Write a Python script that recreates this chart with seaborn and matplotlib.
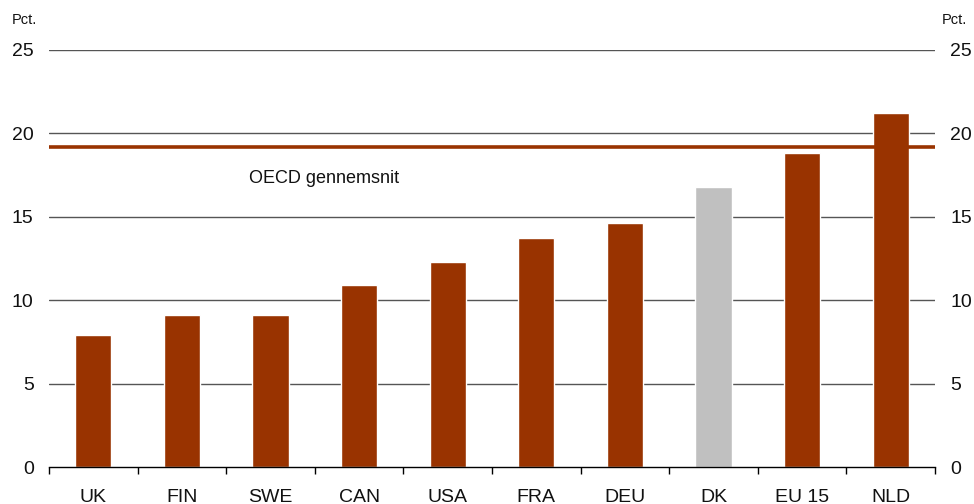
import numpy as np
import seaborn as sns

import matplotlib

matplotlib.use("Agg")
import matplotlib.pyplot as plt
from matplotlib.ticker import FixedLocator

countries = ["UK", "FIN", "SWE", "CAN", "USA", "FRA", "DEU", "DK", "EU 15", "NLD"]
values = [7.9, 9.1, 9.1, 10.9, 12.3, 13.7, 14.6, 16.8, 18.8, 21.2]
oecd_avg = 19.2
yticks = [0, 5, 10, 15, 20, 25]

RED = "#993300"
GREY = "#c0c0c0"
colors = [GREY if c == "DK" else RED for c in countries]

sns.set_theme(style="white")
plt.rcParams["font.family"] = ["Liberation Sans", "DejaVu Sans"]

fig = plt.figure(figsize=(9.74, 5.04), dpi=100)
ax = fig.add_axes([0.0503, 0.0734, 0.9097, 0.8274])

for y in yticks[1:]:
    ax.axhline(y, color="#555555", lw=1.0, zorder=0)

sns.barplot(x=countries, y=values, hue=countries, palette=colors,
            legend=False, width=0.41, saturation=1, ax=ax, zorder=2)

ax.axhline(oecd_avg, color=RED, lw=2.6, zorder=3)
ax.text(1.76, 17.3, "OECD gennemsnit", fontsize=13, va="center", ha="left", color="#111111")

ax.set_xlim(-0.5, len(countries) - 0.5)
ax.set_ylim(0, 25)
ax.set_yticks(yticks)
ax.set_xlabel("")
ax.set_ylabel("")

for side in ["top", "left", "right"]:
    ax.spines[side].set_visible(False)
ax.spines["bottom"].set_color("black")
ax.spines["bottom"].set_linewidth(1.0)

ax.xaxis.set_minor_locator(FixedLocator(np.arange(-0.5, len(countries), 1.0)))
ax.tick_params(axis="x", which="major", length=0, pad=15.5, labelsize=14, colors="#111111")
ax.tick_params(axis="x", which="minor", bottom=True, length=5, width=1.0, direction="out", color="black")
ax.tick_params(axis="y", length=0, pad=11, labelsize=14, colors="#111111",
               left=False, right=False, labelleft=True, labelright=True)

fig.text(12 / 974, 1 - 20 / 504, "Pct.", fontsize=10.5, va="center", ha="left", color="#111111")
fig.text(942 / 974, 1 - 20 / 504, "Pct.", fontsize=10.5, va="center", ha="left", color="#111111")

fig.savefig("out.png", dpi=100)
